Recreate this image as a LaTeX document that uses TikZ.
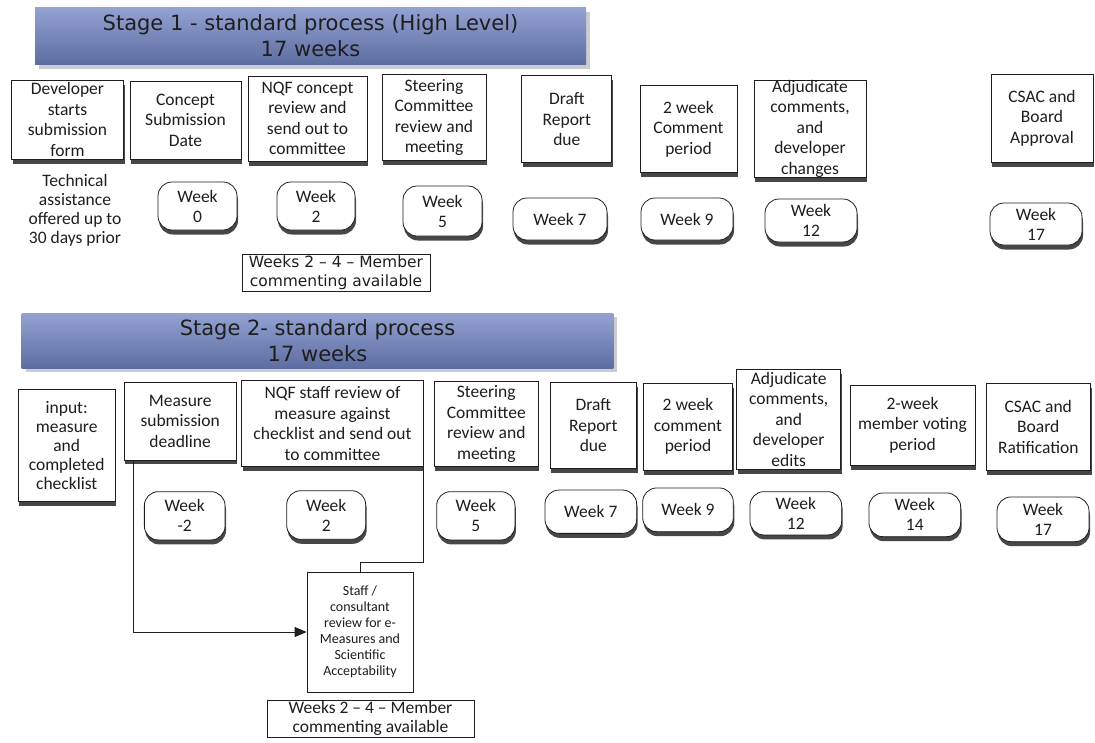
\documentclass[tikz,border=0pt]{standalone}
\usepackage{fontspec}
\setmainfont{Carlito}
\newfontfamily\bannerfont{DejaVu Sans}
\usepackage{tikz}
\usetikzlibrary{arrows.meta,shadows}
\definecolor{bntop}{HTML}{93A2D2}
\definecolor{bnbot}{HTML}{5D6DA1}
\definecolor{ink}{HTML}{1E1E1E}
\tikzset{wh/.style 2 args={minimum width=#1pt,minimum height=#2pt}}

\begin{document}
\begin{tikzpicture}[x=1pt,y=-1pt,
  banner/.style={top color=bntop,bottom color=bnbot,draw=none,align=center,inner sep=0pt,
    text=ink,font=\bannerfont\fontsize{21}{26}\selectfont,
    drop shadow={shadow xshift=4pt,shadow yshift=-4pt,fill=black!20,opacity=1}},
  task/.style={draw=ink,line width=0.8pt,fill=white,align=center,inner sep=0pt,
    text=ink,font=\fontsize{17.5}{20.5}\selectfont,
    drop shadow={shadow xshift=1pt,shadow yshift=-4.5pt,fill=black!72,opacity=1}},
  week/.style={draw=ink,line width=0.8pt,fill=white,rounded corners=14pt,align=center,inner sep=0pt,
    text=ink,font=\fontsize{17.5}{20}\selectfont,
    drop shadow={shadow xshift=1pt,shadow yshift=-4.5pt,fill=black!72,opacity=1}},
  note/.style={draw=ink,line width=0.8pt,fill=white,align=center,inner sep=0pt,text=ink},
  plain/.style={align=center,inner sep=0pt,text=ink,font=\fontsize{17.5}{19}\selectfont},
  link/.style={draw=ink,line width=0.8pt}]
  \useasboundingbox (0,0) rectangle (1095,742);
  \node[banner,wh={551}{57}] (ban1) at (310.5,36) {Stage 1 - standard process (High Level)\\17 weeks};
  \node[task,wh={112}{79}]   (dev) at (67.5,119.5) {Developer\\starts\\submission\\form};
  \node[task,wh={111}{78}]   (csd) at (185.5,120)  {Concept\\Submission\\Date};
  \node[task,wh={119}{85}]   (ncr) at (307.5,118.5){NQF concept\\review and\\send out to\\committee};
  \node[task,wh={104}{85.4}] (scm) at (434,117.3)  {Steering\\Committee\\review and\\meeting};
  \node[task,wh={90}{87}]    (drf) at (566.8,119.2){Draft\\Report\\due};
  \node[task,wh={97}{87}]    (cmt) at (688.5,129.2){2 week\\Comment\\period};
  \node[task,wh={112}{97}]   (adj) at (810,128.5)  {Adjudicate\\comments,\\and\\developer\\changes};
  \node[task,wh={102}{88}]   (csa) at (1042,118)   {CSAC and\\Board\\Approval};
  \node[plain] (tec) at (75,210.5) {Technical\\assistance\\offered up to\\30 days prior};
  \node[week,wh={79}{48}]   (p0)  at (197.5,206)   {Week\\0};
  \node[week,wh={78}{48}]   (p2)  at (316,206)     {Week\\2};
  \node[week,wh={79}{50}]   (p5)  at (442.5,211)   {Week\\5};
  \node[week,wh={94}{42}]   (p7)  at (560,219)     {Week 7};
  \node[week,wh={92}{42}]   (p9)  at (687,219)     {Week 9};
  \node[week,wh={92}{43}]   (p12) at (811,220.5)   {Week\\12};
  \node[week,wh={92}{42}]   (p17) at (1036,224)    {Week\\17};
  \node[note,font=\bannerfont\fontsize{15.5}{19}\selectfont,wh={188}{37}] (mc1) at (336,272.5)
    {Weeks 2 – 4 – Member\\commenting available};

  \node[banner,wh={591.6}{55}] (ban2) at (317.5,340.8) {Stage 2- standard process\\17 weeks};
  \node[task,font=\fontsize{17.5}{19}\selectfont,wh={96.7}{112.4}] (inp) at (66.7,445.5)
    {input:\\measure\\and\\completed\\checklist};
  \node[task,wh={111.7}{77.3}] (msd) at (180.2,421.3) {Measure\\submission\\deadline};
  \node[task,wh={181.6}{86}]   (nsr) at (332.5,423.7) {NQF staff review of\\measure against\\checklist and send out\\to committee};
  \node[task,wh={104}{85.7}]   (sc2) at (486.3,423.8) {Steering\\Committee\\review and\\meeting};
  \node[task,wh={86.7}{86}]    (dr2) at (593.3,425.3) {Draft\\Report\\due};
  \node[task,wh={89.4}{86.7}]  (cm2) at (688,426.7)   {2 week\\comment\\period};
  \node[task,wh={104}{100}]    (ad2) at (788.7,419.3) {Adjudicate\\comments,\\and\\developer\\edits};
  \node[task,wh={125}{80}]     (vot) at (912.5,425)   {2-week\\member voting\\period};
  \node[task,wh={104.7}{87}]   (cs2) at (1038.3,426.5){CSAC and\\Board\\Ratification};
  \node[week,wh={80.7}{48.3}] (q0)  at (184.7,515.8) {Week\\-2};
  \node[week,wh={79}{48.6}]   (q2)  at (326.2,515)   {Week\\2};
  \node[week,wh={78.3}{48.3}] (q5)  at (475.8,515.8) {Week\\5};
  \node[week,wh={91.7}{43.3}] (q7)  at (590.8,511.7) {Week 7};
  \node[week,wh={90.6}{43.7}] (q9)  at (688,509.8)   {Week 9};
  \node[week,wh={91.7}{43.3}] (q12) at (795.8,513.3) {Week\\12};
  \node[week,wh={91.7}{43.7}] (q14) at (914.8,514.8) {Week\\14};
  \node[week,wh={92}{44.7}]   (q17) at (1043,519.3)  {Week\\17};
  \node[note,font=\fontsize{14}{16}\selectfont,wh={106}{120}] (rev) at (360,632)
    {Staff /\\consultant\\review for e-\\Measures and\\Scientific\\Acceptability};
  \node[note,font=\fontsize{17.5}{19}\selectfont,wh={207}{37}] (mc2) at (370.5,718.5)
    {Weeks 2 – 4 – Member\\commenting available};
  \draw[link,-{Triangle[length=12pt,width=10pt]}] ([xshift=9pt]msd.south west) |- (rev.west);
  \draw[link] (nsr.south east) -- ++(0,95.3) -| (rev.north);
\end{tikzpicture}
\end{document}
